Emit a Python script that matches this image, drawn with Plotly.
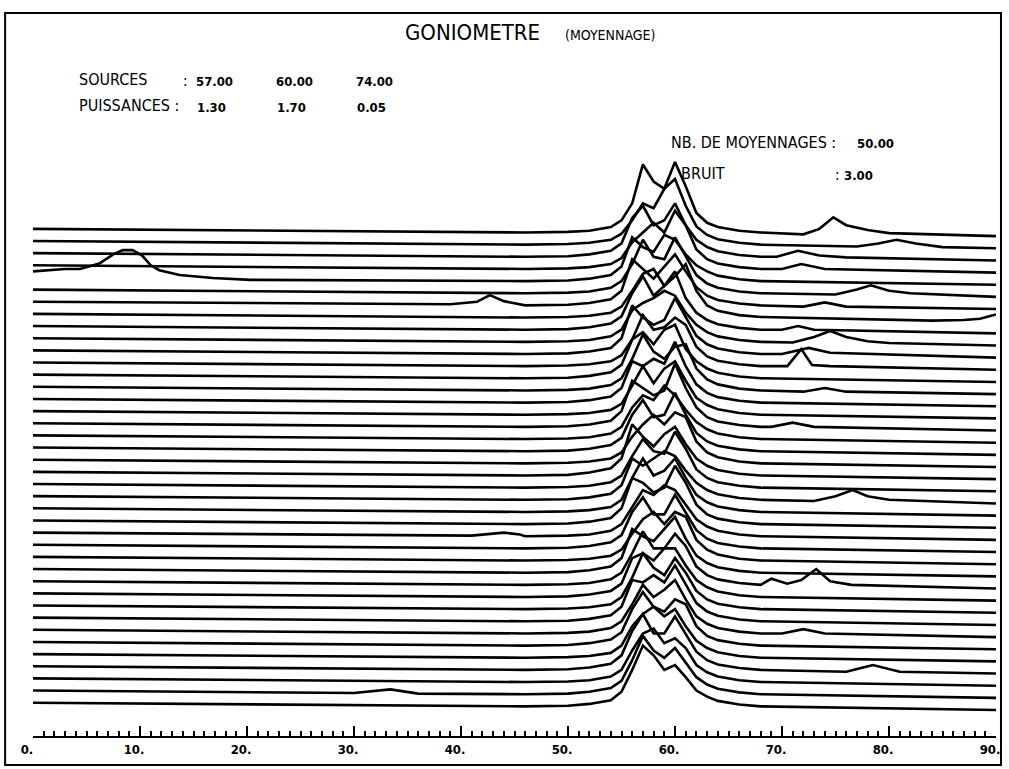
import plotly.graph_objects as go

# ---------------- data ----------------
TICK_VALUES = [0, 10, 20, 30, 40, 50, 60, 70, 80, 90]
TICK_LABELS = ["0.", "10.", "20.", "30.", "40.", "50.", "60.", "70.", "80.", "90."]

SOURCES = ["57.00", "60.00", "74.00"]
PUISSANCES = ["1.30", "1.70", "0.05"]
NB_MOYENNAGES = "50.00"
BRUIT = "3.00"

# shared abscissae of the main peak region
PEAK_X = [46, 50, 52, 54, 55, 56, 57, 58, 59, 60, 61, 62, 63, 64, 66, 68]

# rows listed from the top curve (ROW00) to the bottom curve (ROW39), values in line-spacing units
ROW00 = [0.0, 0.05, 0.15, 0.45, 1.0, 2.4, 5.6, 4.2, 3.6, 5.8, 3.8, 1.6, 0.8, 0.45, 0.15, 0.0]
ROW01 = [0.0, 0.05, 0.15, 0.4, 0.9, 2.0, 3.4, 3.0, 4.6, 5.4, 3.2, 1.5, 0.8, 0.45, 0.15, 0.0]
ROW02 = [0.0, 0.05, 0.2, 0.5, 1.1, 3.2, 4.2, 2.6, 3.0, 4.4, 2.6, 1.4, 0.8, 0.45, 0.15, 0.0]
ROW03 = [0.0, 0.05, 0.15, 0.4, 0.9, 2.2, 3.0, 3.8, 3.0, 4.8, 3.6, 1.6, 0.8, 0.45, 0.15, 0.0]
ROW04 = [0.0, 0.05, 0.2, 0.5, 1.2, 3.6, 2.8, 2.4, 3.8, 3.4, 2.2, 1.3, 0.8, 0.45, 0.15, 0.0]
ROW05 = [0.0, 0.05, 0.15, 0.45, 1.0, 2.4, 4.4, 3.0, 2.8, 4.6, 3.0, 1.5, 0.8, 0.45, 0.15, 0.0]
ROW06 = [0.0, 0.05, 0.2, 0.5, 1.2, 3.8, 3.0, 2.2, 3.2, 4.2, 2.8, 1.5, 0.8, 0.45, 0.15, 0.0]
ROW07 = [0.0, 0.05, 0.15, 0.4, 0.9, 2.2, 3.6, 4.0, 2.6, 3.4, 4.4, 2.2, 1.0, 0.55, 0.2, 0.05]
ROW08 = [0.0, 0.05, 0.2, 0.5, 1.1, 3.0, 4.4, 2.8, 3.6, 4.8, 2.6, 1.4, 0.8, 0.45, 0.15, 0.0]
ROW09 = [0.0, 0.05, 0.15, 0.45, 1.0, 2.6, 3.2, 3.6, 4.2, 3.8, 2.4, 1.4, 0.8, 0.45, 0.15, 0.0]
ROW10 = [0.0, 0.05, 0.2, 0.5, 1.3, 4.0, 3.0, 2.4, 2.8, 4.6, 3.0, 1.5, 0.8, 0.45, 0.15, 0.0]
ROW11 = [0.0, 0.05, 0.15, 0.4, 0.9, 2.2, 4.2, 3.0, 3.2, 4.0, 3.4, 1.6, 0.8, 0.45, 0.15, 0.0]
ROW12 = [0.0, 0.05, 0.2, 0.5, 1.1, 3.2, 3.8, 2.8, 4.0, 4.4, 2.4, 1.4, 0.8, 0.45, 0.15, 0.0]
ROW13 = [0.0, 0.05, 0.15, 0.45, 1.0, 2.6, 4.6, 3.2, 2.6, 3.6, 3.8, 1.8, 0.9, 0.5, 0.15, 0.0]
ROW14 = [0.0, 0.05, 0.2, 0.5, 1.2, 3.4, 3.0, 3.6, 3.2, 5.0, 3.0, 1.5, 0.8, 0.45, 0.15, 0.0]
ROW15 = [0.0, 0.05, 0.15, 0.4, 0.9, 2.4, 4.0, 2.6, 3.8, 4.4, 2.8, 1.4, 0.8, 0.45, 0.15, 0.0]
ROW16 = [0.0, 0.05, 0.2, 0.5, 1.3, 3.8, 3.2, 2.6, 3.0, 5.2, 3.2, 1.6, 0.8, 0.45, 0.15, 0.0]
ROW17 = [0.0, 0.05, 0.15, 0.45, 1.0, 2.6, 3.6, 3.2, 4.4, 3.6, 2.4, 1.4, 0.8, 0.45, 0.15, 0.0]
ROW18 = [0.0, 0.05, 0.2, 0.5, 1.1, 3.0, 4.2, 2.8, 3.0, 4.8, 3.0, 1.5, 0.8, 0.45, 0.15, 0.0]
ROW19 = [0.0, 0.05, 0.15, 0.4, 0.9, 2.2, 3.2, 4.0, 3.2, 4.2, 3.8, 1.8, 0.9, 0.5, 0.15, 0.0]
ROW20 = [0.0, 0.05, 0.25, 0.6, 1.4, 4.2, 3.2, 2.4, 3.4, 4.0, 2.6, 1.4, 0.8, 0.45, 0.15, 0.0]
ROW21 = [0.0, 0.05, 0.15, 0.45, 1.0, 2.6, 4.0, 3.0, 2.8, 4.6, 3.2, 1.5, 0.8, 0.45, 0.15, 0.0]
ROW22 = [0.0, 0.05, 0.2, 0.5, 1.2, 3.4, 2.8, 3.4, 4.0, 3.6, 2.4, 1.4, 0.8, 0.45, 0.15, 0.0]
ROW23 = [0.0, 0.05, 0.15, 0.4, 1.0, 2.8, 4.4, 3.0, 3.4, 4.4, 2.8, 1.4, 0.8, 0.45, 0.15, 0.0]
ROW24 = [0.0, 0.05, 0.2, 0.5, 1.3, 3.8, 3.4, 2.6, 3.0, 4.8, 3.4, 1.6, 0.8, 0.45, 0.15, 0.0]
ROW25 = [0.0, 0.05, 0.15, 0.45, 1.0, 2.4, 3.8, 3.4, 4.2, 3.8, 2.6, 1.4, 0.8, 0.45, 0.15, 0.0]
ROW26 = [0.0, 0.05, 0.2, 0.5, 1.1, 3.0, 4.2, 2.8, 2.8, 4.4, 3.0, 1.5, 0.8, 0.45, 0.15, 0.0]
ROW27 = [0.0, 0.05, 0.15, 0.4, 0.9, 2.2, 3.4, 4.0, 3.0, 4.0, 3.6, 1.7, 0.9, 0.5, 0.15, 0.0]
ROW28 = [0.0, 0.05, 0.2, 0.5, 1.2, 3.6, 3.0, 2.6, 3.6, 4.6, 2.8, 1.4, 0.8, 0.45, 0.15, 0.0]
ROW29 = [0.0, 0.05, 0.15, 0.45, 1.0, 2.6, 4.4, 3.0, 3.0, 4.2, 3.2, 1.5, 0.8, 0.45, 0.15, 0.0]
ROW30 = [0.0, 0.05, 0.2, 0.5, 1.1, 3.2, 3.6, 3.0, 4.0, 4.0, 2.6, 1.4, 0.8, 0.45, 0.15, 0.0]
ROW31 = [0.0, 0.05, 0.15, 0.4, 1.0, 2.6, 4.6, 3.4, 2.8, 4.2, 3.0, 1.5, 0.8, 0.45, 0.15, 0.0]
ROW32 = [0.0, 0.05, 0.2, 0.5, 1.2, 3.4, 3.2, 3.8, 3.2, 4.6, 3.0, 1.5, 0.8, 0.45, 0.15, 0.0]
ROW33 = [0.0, 0.05, 0.15, 0.45, 1.0, 2.4, 4.0, 3.0, 3.6, 4.4, 2.8, 1.4, 0.8, 0.45, 0.15, 0.0]
ROW34 = [0.0, 0.05, 0.2, 0.5, 1.1, 3.0, 4.4, 3.2, 2.8, 3.8, 3.4, 1.6, 0.8, 0.45, 0.15, 0.0]
ROW35 = [0.0, 0.05, 0.15, 0.4, 1.0, 2.6, 3.6, 4.2, 3.4, 4.0, 2.6, 1.4, 0.8, 0.45, 0.15, 0.0]
ROW36 = [0.0, 0.05, 0.2, 0.5, 1.2, 3.2, 4.6, 3.0, 3.0, 4.4, 3.0, 1.5, 0.8, 0.45, 0.15, 0.0]
ROW37 = [0.0, 0.05, 0.15, 0.45, 1.0, 2.6, 4.0, 4.4, 3.2, 3.6, 2.8, 1.4, 0.8, 0.45, 0.15, 0.0]
ROW38 = [0.0, 0.05, 0.2, 0.5, 1.1, 2.8, 4.8, 3.6, 3.0, 3.8, 2.6, 1.4, 0.8, 0.45, 0.15, 0.0]
ROW39 = [0.0, 0.05, 0.2, 0.5, 1.2, 3.0, 5.0, 4.2, 3.0, 3.4, 2.4, 1.3, 0.8, 0.45, 0.15, 0.0]

# value of every row at x = 0 and at x = 90
EDGE_LEFT = [0.3, 0.3, 0.3, 0.3, 0.8, 0.3, 0.3, 0.3, 0.3, 0.3,
             0.3, 0.3, 0.3, 0.3, 0.3, 0.3, 0.3, 0.3, 0.3, 0.3,
             0.3, 0.3, 0.3, 0.3, 0.3, 0.3, 0.3, 0.3, 0.3, 0.3,
             0.3, 0.3, 0.3, 0.3, 0.3, 0.3, 0.3, 0.3, 0.3, 0.3]
EDGE_RIGHT = [-0.3, -0.3, -0.3, -0.3, -0.3, -0.3, -0.3, 0.25, -0.3, -0.3,
              -0.3, -0.3, -0.3, -0.3, -0.3, -0.3, -0.3, -0.3, -0.3, -0.3,
              -0.3, -0.3, -0.3, -0.3, -0.3, -0.3, -0.3, -0.3, -0.3, -0.3,
              -0.3, -0.3, -0.3, -0.3, -0.3, -0.3, -0.3, -0.3, -0.3, -0.3]

# secondary bumps: row index and (x, value) points
BUMP_ROW = [0, 1, 2, 3, 4, 5, 6, 6, 7, 8, 9, 10, 11, 13, 16, 22, 25, 29, 33, 36, 38]
BUMP_PTS = [
    [(72, -0.15), (73.5, 0.3), (74.8, 1.25), (76, 0.6), (78, 0.2), (80, -0.05)],
    [(77, -0.15), (79, 0.1), (80.7, 0.4), (82.5, 0.1), (85, -0.2)],
    [(69.5, 0.0), (71.5, 0.5), (73.5, 0.1), (76, -0.05)],
    [(70, 0.0), (71.8, 0.4), (74, 0.0)],
    [(3, 1.0), (4.4, 1.0), (6.2, 1.45), (7.5, 2.2), (8.4, 2.55), (9.3, 2.55), (10.2, 2.1),
     (11, 1.3), (11.8, 0.9), (13.7, 0.5), (16.8, 0.25), (20.3, 0.1)],
    [(75, -0.1), (77, 0.3), (78.3, 0.65), (80, 0.2), (82, 0.0)],
    [(39, 0.1), (41.5, 0.3), (42.7, 0.85), (44, 0.35), (45.5, 0.1)],
    [(72, -0.1), (74, 0.25), (76, -0.1)],
    [(84, -0.25), (87, -0.2), (88.5, -0.1)],
    [(70, 0.0), (71.5, 0.3), (73, 0.0)],
    [(71, -0.05), (73, 0.4), (74.5, 0.9), (76, 0.4), (78, 0.05), (80, -0.1)],
    [(70, 0.0), (72.5, 0.5), (74.5, 0.1)],
    [(70.5, 0.0), (71.8, 1.4), (72.8, 0.1), (74.5, 0.0)],
    [(72, -0.1), (74, 0.2), (76, -0.1)],
    [(69, 0.0), (71, 0.35), (73, 0.0)],
    [(73, -0.1), (75, 0.3), (76.6, 0.8), (78, 0.3), (80, 0.0)],
    [(41, 0.05), (44, 0.3), (45.5, 0.15)],
    [(69, 0.5), (70.5, 0.1), (71.8, 0.4), (73.2, 1.3), (74.5, 0.3), (76.5, 0.0)],
    [(70, 0.0), (72, 0.35), (74, 0.0)],
    [(76, -0.15), (78.5, 0.4), (81, -0.15)],
    [(30, 0.1), (33.4, 0.4), (36, 0.05)],
]

ROWS = [ROW00, ROW01, ROW02, ROW03, ROW04, ROW05, ROW06, ROW07, ROW08, ROW09,
        ROW10, ROW11, ROW12, ROW13, ROW14, ROW15, ROW16, ROW17, ROW18, ROW19,
        ROW20, ROW21, ROW22, ROW23, ROW24, ROW25, ROW26, ROW27, ROW28, ROW29,
        ROW30, ROW31, ROW32, ROW33, ROW34, ROW35, ROW36, ROW37, ROW38, ROW39]

# ---------------- layout constants ----------------
W, H = 1009, 769
PL, PR, PT, PB = 33, 1000, 13, 736           # plot area in px
STEP_PX = 12.15                              # vertical distance between rows
BOTTOM_BASE_PX = 706.35                      # baseline of the lowest row
X_MIN, X_MAX = 0, 90

def py_to_y(py):
    return (BOTTOM_BASE_PX - py) / STEP_PX

def px_paper(px):
    return (px - PL) / (PR - PL)

def py_paper(py):
    return (PB - py) / (PB - PT)

fig = go.Figure()
n = len(ROWS)
for t, row in enumerate(ROWS):
    pts = [(X_MIN, EDGE_LEFT[t])] + list(zip(PEAK_X, row)) + [(X_MAX, EDGE_RIGHT[t])]
    for r, bp in zip(BUMP_ROW, BUMP_PTS):
        if r == t:
            pts += bp
    pts.sort(key=lambda p: p[0])
    k = n - 1 - t
    fig.add_trace(go.Scatter(
        x=[p[0] for p in pts], y=[k + p[1] for p in pts],
        mode="lines", line=dict(color="black", width=2.6),
        showlegend=False, hoverinfo="skip", cliponaxis=False))

FONT = "DejaVu Sans Condensed, DejaVu Sans, sans-serif"

def txt(s, px, py, size, bold=False):
    fig.add_annotation(
        text=("<b>%s</b>" % s) if bold else s,
        x=px_paper(px), y=py_paper(py), xref="paper", yref="paper",
        xanchor="left", yanchor="middle", showarrow=False,
        font=dict(family=FONT, size=size, color="black"))

txt("GONIOMETRE", 405, 32, 22)
txt("(MOYENNAGE)", 565, 35, 14)
txt("SOURCES", 77, 79, 16)
txt(":", 182, 81, 15)
txt("PUISSANCES :", 77, 106, 16)
for i, (s, p) in enumerate(zip(SOURCES, PUISSANCES)):
    txt(s, 195 + 80 * i, 81, 13, bold=True)
    txt(p, 196 + 80 * i, 108, 13, bold=True)
txt("NB. DE MOYENNAGES :", 672, 142, 16)
txt(NB_MOYENNAGES, 858, 143, 13, bold=True)
txt("BRUIT", 682, 173, 16)
txt(":", 836, 175, 15)
txt(BRUIT, 845, 175, 13, bold=True)

# outer frame
fig.add_shape(type="rect", xref="paper", yref="paper",
              x0=px_paper(5), x1=px_paper(1005), y0=py_paper(765), y1=py_paper(13),
              line=dict(color="black", width=2), fillcolor="rgba(0,0,0,0)")

fig.update_layout(
    width=W, height=H,
    margin=dict(l=PL, r=W - PR, t=PT, b=H - PB, pad=0),
    paper_bgcolor="white", plot_bgcolor="white",
    xaxis=dict(range=[X_MIN, X_MAX], showgrid=False, zeroline=False,
               showline=True, linecolor="black", linewidth=2,
               ticks="inside", ticklen=10, tickwidth=2, tickcolor="black",
               tickvals=TICK_VALUES, ticktext=TICK_LABELS, ticklabelshift=-6,
               ticklabelstandoff=0,
               tickfont=dict(family=FONT, size=13, color="black", weight="bold"),
               minor=dict(ticks="inside", dtick=1, ticklen=5, tickwidth=1.5, tickcolor="black")),
    yaxis=dict(range=[py_to_y(PB), py_to_y(PT)], visible=False),
)

fig.write_html("out.html", config={"displayModeBar": False},
               post_script="document.body.style.margin='0';document.body.style.overflow='hidden';")
